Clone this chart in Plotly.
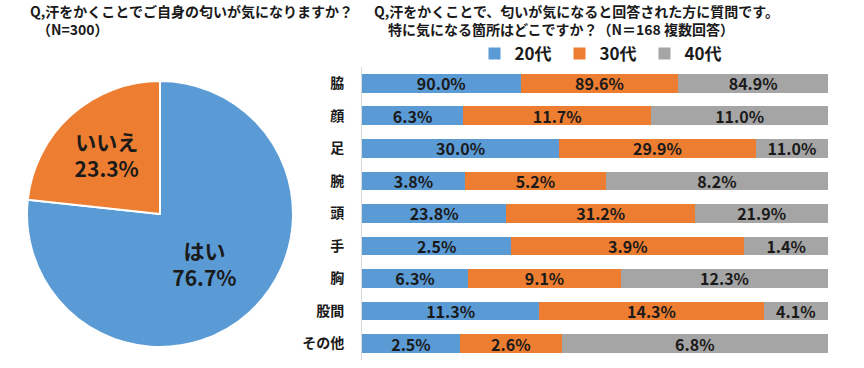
import plotly.graph_objects as go

# ---- data ----
pie_labels = ["はい", "いいえ"]
pie_values = [76.7, 23.3]

categories = ["脇", "顔", "足", "腕", "頭", "手", "胸", "股間", "その他"]
series_names = ["20代", "30代", "40代"]
v20 = [90.0, 6.3, 30.0, 3.8, 23.8, 2.5, 6.3, 11.3, 2.5]
v30 = [89.6, 11.7, 29.9, 5.2, 31.2, 3.9, 9.1, 14.3, 2.6]
v40 = [84.9, 11.0, 11.0, 8.2, 21.9, 1.4, 12.3, 4.1, 6.8]

colors = ["#5B9BD5", "#ED7D31", "#A5A5A5"]
FONT = "Noto Sans CJK JP"
INK = "#1a1a1a"
W, H = 864, 368

fig = go.Figure()

fig.add_trace(go.Pie(
    labels=pie_labels, values=pie_values, sort=False, direction="clockwise",
    rotation=0,
    marker=dict(colors=colors[:2], line=dict(color="white", width=2)),
    texttemplate="%{label}<br>%{value:.1f}%",
    textposition="inside", insidetextorientation="horizontal",
    textfont=dict(family=FONT, size=21, color=INK, weight="bold"),
    domain=dict(x=[27 / W, 293 / W], y=[1 - 347 / H, 1 - 81 / H]),
    showlegend=False, hoverinfo="label+value",
))

for name, vals, col in zip(series_names, [v20, v30, v40], colors):
    fig.add_trace(go.Bar(
        y=categories, x=vals, name=name, orientation="h",
        marker=dict(color=col, line=dict(width=0)),
        text=[f"{v:.1f}%" for v in vals],
        textposition="inside", insidetextanchor="middle", textangle=0,
        textfont=dict(family=FONT, size=16, color=INK, weight="bold"),
        constraintext="none",
    ))

fig.update_layout(
    width=W, height=H, margin=dict(l=0, r=0, t=0, b=0),
    paper_bgcolor="white", plot_bgcolor="white",
    barmode="stack", barnorm="percent", bargap=0.425,
    font=dict(family=FONT, color=INK),
    xaxis=dict(domain=[362 / W, 828 / W], range=[0, 100], showticklabels=False,
               showgrid=False, zeroline=False, showline=False),
    yaxis=dict(domain=[1 - 359.8 / H, 1 - 67 / H], autorange="reversed",
               showgrid=False, zeroline=False, showline=True, linecolor="#d9d9d9",
               linewidth=1, ticks="", ticklabelstandoff=14,
               tickfont=dict(family=FONT, size=14, color=INK, weight="bold")),
    legend=dict(orientation="h", x=602 / W, xanchor="center", y=1 - 54 / H,
                yanchor="middle",
                font=dict(family=FONT, size=17, color=INK, weight="bold"),
                traceorder="normal", bgcolor="rgba(0,0,0,0)",
                entrywidth=40, entrywidthmode="pixels"),
)

annos = [
    ("Q,汗をかくことでご自身の匂いが気になりますか？<br>\u3000（N=300）", 28, 20),
    ("Q,汗をかくことで、匂いが気になると回答された方に質問です。<br>\u3000特に気になる箇所はどこですか？（N＝168 複数回答）", 372, 20),
]
for txt, x, y in annos:
    fig.add_annotation(text=txt, xref="paper", yref="paper", x=x / W, y=1 - y / H,
                       xanchor="left", yanchor="middle", align="left", showarrow=False,
                       font=dict(family=FONT, size=14, color=INK, weight="bold"))

fig.write_html("out.html", config={"displayModeBar": False},
               post_script="document.body.style.margin='0';")
